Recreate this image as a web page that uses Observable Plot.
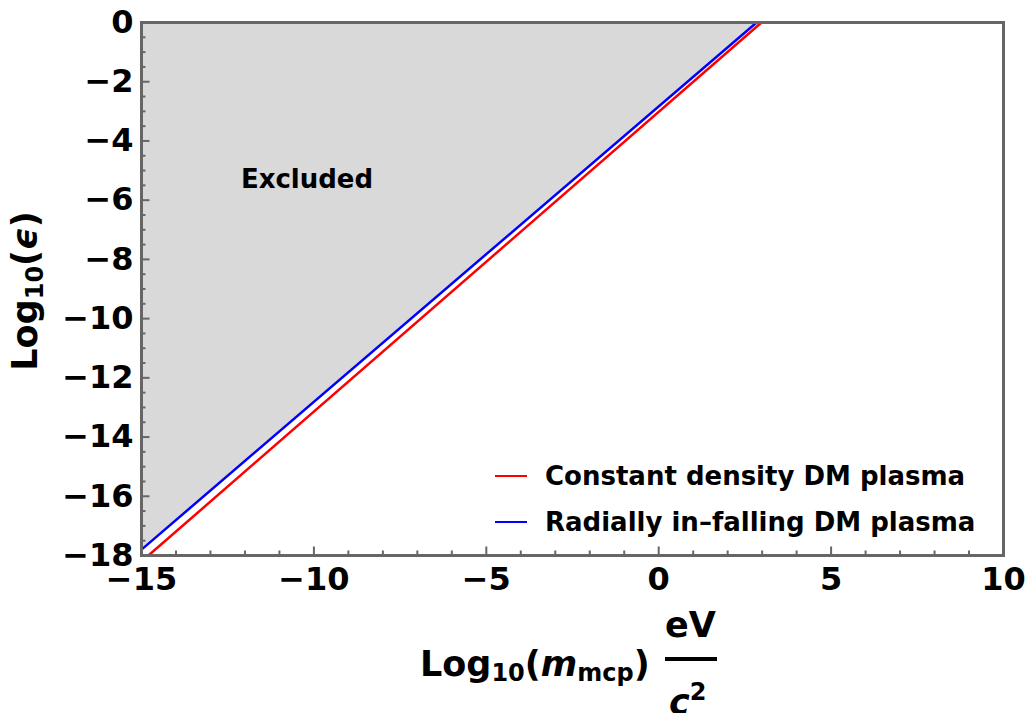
<!DOCTYPE html>
<html>
<head>
<meta charset="utf-8">
<script src="https://cdn.jsdelivr.net/npm/d3@7"></script>
<script src="https://cdn.jsdelivr.net/npm/@observablehq/plot@0.6"></script>
<style>
  html, body { margin: 0; padding: 0; background: #fff; }
  #wrap { position: relative; width: 1027px; }
  #xlab { position: relative; width: 1027px; height: 113px; overflow: hidden;
          font-family: "DejaVu Sans", sans-serif; font-weight: bold; color: #000; }
  #xlab .t { position: absolute; white-space: nowrap; line-height: 35px; font-size: 35px; }
  #xlab sub { font-size: 24px; vertical-align: -5px; line-height: 0; }
  #xlab sup { font-size: 24px; vertical-align: 14px; line-height: 0; }
</style>
</head>
<body>
<div id="wrap">
  <div id="chart"></div>
  <div id="xlab">
    <div class="t" style="left:420px; top:47px;">Log<sub>10</sub>(<i>m</i><sub>mcp</sub>)</div>
    <div class="t" style="left:665px; top:8px;">eV</div>
    <div style="position:absolute; left:665px; top:57px; width:52px; height:4px; background:#000;"></div>
    <div class="t" style="left:669px; top:85px;"><i>c</i><sup>2</sup></div>
  </div>
</div>
<script>
// ---- data ----
const xMajorTicks = [-15, -10, -5, 0, 5, 10];
const xMinorTicks = [-14, -13, -12, -11, -9, -8, -7, -6, -4, -3, -2, -1, 1, 2, 3, 4, 6, 7, 8, 9];
const yMajorTicks = [0, -2, -4, -6, -8, -10, -12, -14, -16, -18];
const yMinorTicks = [-0.5, -1, -1.5, -2.5, -3, -3.5, -4.5, -5, -5.5, -6.5, -7, -7.5, -8.5, -9, -9.5,
                     -10.5, -11, -11.5, -12.5, -13, -13.5, -14.5, -15, -15.5, -16.5, -17, -17.5];
// constant density DM plasma (red)
const constantX = [-14.8, 2.98];
const constantY = [-18, 0];
// radially in-falling DM plasma (blue)
const radialX = [-15, 2.84];
const radialY = [-17.8, 0];
const seriesNames = ["Constant density DM plasma", "Radially in\u2013falling DM plasma"];
const seriesColors = ["#ff0000", "#0000ff"];
const annotation = [{x: -10.2, y: -5.3, label: "Excluded"}];

const constant = constantX.map((x, i) => ({x, y: constantY[i]}));
const radial = radialX.map((x, i) => ({x, y: radialY[i]}));

const FONT = "DejaVu Sans";

function legendMark(index, scales, values, dims) {
  const g = d3.create("svg:g");
  const bottom = dims.height - dims.marginBottom;
  const rows = [bottom - 79, bottom - 33];
  rows.forEach((yy, i) => {
    g.append("line").attr("x1", 495).attr("x2", 527).attr("y1", yy).attr("y2", yy)
      .attr("stroke", seriesColors[i]).attr("stroke-width", 2);
    g.append("text").attr("x", 545).attr("y", yy).attr("dy", "0.36em")
      .attr("text-anchor", "start")
      .attr("font-family", FONT).attr("font-weight", "bold").attr("font-size", 26)
      .attr("fill", "#000").text(seriesNames[i]);
  });
  return g.node();
}

function yLabelMark(index, scales, values, dims) {
  const t = d3.create("svg:text")
    .attr("transform", "translate(37,291) rotate(-90)")
    .attr("text-anchor", "middle")
    .attr("font-family", FONT).attr("font-weight", "bold").attr("font-size", 35)
    .attr("fill", "#000");
  t.append("tspan").text("Log");
  t.append("tspan").attr("font-size", 24).attr("dy", 6).text("10");
  t.append("tspan").attr("dy", -6).text("(");
  t.append("tspan").attr("font-style", "italic").text("\u03f5");
  t.append("tspan").text(")");
  return t.node();
}

const plot = Plot.plot({
  width: 1027,
  height: 600,
  marginLeft: 141,
  marginRight: 24,
  marginTop: 22,
  marginBottom: 45,
  style: {fontFamily: FONT, fontWeight: "bold", fontSize: "32px", color: "#000", background: "#fff"},
  x: {domain: [-15, 10], axis: null},
  y: {domain: [-18, 0], axis: null},
  marks: [
    Plot.areaY(radial, {x: "x", y1: "y", y2: 0, fill: "#d9d9d9"}),
    Plot.line(constant, {x: "x", y: "y", stroke: seriesColors[0], strokeWidth: 2.5}),
    Plot.line(radial, {x: "x", y: "y", stroke: seriesColors[1], strokeWidth: 2.5}),
    Plot.text(annotation, {x: "x", y: "y", text: "label", fontSize: 26, fontWeight: "bold", fill: "#000"}),
    Plot.axisX({ticks: xMinorTicks, tickSize: -4.5, text: null, stroke: "#666", strokeWidth: 2, label: null}),
    Plot.axisX({ticks: xMajorTicks, tickSize: -8.5, text: null, stroke: "#666", strokeWidth: 2, label: null}),
    Plot.axisY({ticks: yMinorTicks, tickSize: -4.5, text: null, stroke: "#666", strokeWidth: 2, label: null}),
    Plot.axisY({ticks: yMajorTicks, tickSize: -8.5, text: null, stroke: "#666", strokeWidth: 2, label: null}),
    Plot.axisX({ticks: xMajorTicks, tickSize: 0, tickPadding: 12, fontSize: 32, fontWeight: "bold", fill: "#000", label: null}),
    Plot.axisY({ticks: yMajorTicks, tickSize: 0, tickPadding: 8, fontSize: 32, fontWeight: "bold", fill: "#000", label: null}),
    Plot.frame({stroke: "#666", strokeWidth: 3}),
    legendMark,
    yLabelMark
  ]
});
document.getElementById("chart").appendChild(plot);
</script>
</body>
</html>
